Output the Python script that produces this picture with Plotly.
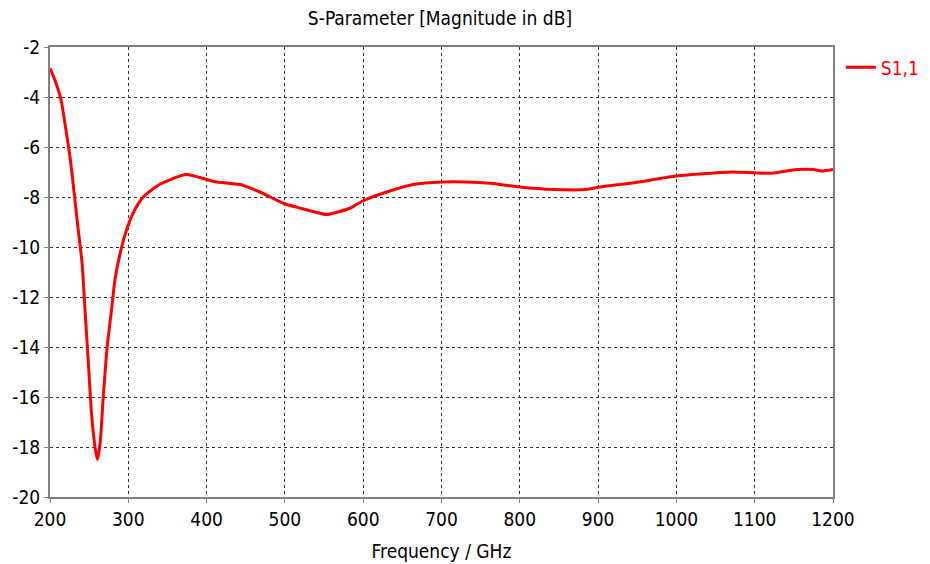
import plotly.graph_objects as go

freq_ghz = [200, 206, 214, 221, 226, 230, 236, 241, 245, 249, 253, 257.5, 260.5, 264, 268, 273,
            279, 283, 291.5, 298, 306, 319, 340, 374, 400, 413, 443, 468, 498, 520, 541, 553,
            583, 600, 630, 664, 702, 732, 762, 800, 843, 885, 902, 941, 1000, 1030, 1072,
            1100, 1122, 1154, 1175, 1185, 1200]
s11_db = [-2.85, -3.3, -4.1, -5.45, -6.5, -7.6, -9.3, -10.65, -12.65, -14.65, -16.65, -18.0,
          -18.5, -17.85, -16.0, -14.0, -12.4, -11.3, -10.0, -9.3, -8.65, -8.0, -7.5, -7.1,
          -7.3, -7.4, -7.5, -7.8, -8.25, -8.45, -8.62, -8.7, -8.45, -8.15, -7.8, -7.5, -7.4,
          -7.4, -7.45, -7.6, -7.7, -7.7, -7.6, -7.45, -7.16, -7.08, -7.0, -7.03, -7.05,
          -6.9, -6.9, -6.96, -6.9]

x_ticks = [200, 300, 400, 500, 600, 700, 800, 900, 1000, 1100, 1200]
y_ticks = [-2, -4, -6, -8, -10, -12, -14, -16, -18, -20]
y_tick_labels = ["-2", "-4", "-6", "-8", "-10", "-12", "-14", "-16", "-18", "-20"]

FONT = "DejaVu Sans Condensed, DejaVu Sans, sans-serif"

fig = go.Figure()
fig.add_trace(go.Scatter(
    x=freq_ghz, y=s11_db, mode="lines", name="S1,1",
    line=dict(color="#ff0000", width=3, shape="spline", smoothing=0.6),
))

axis_common = dict(
    showline=True, mirror=True, linecolor="#808080", linewidth=2,
    showgrid=True, gridcolor="#333333", gridwidth=1, griddash="dot",
    ticks="outside", ticklen=4, tickcolor="#808080",
    tickfont=dict(family=FONT, size=19, color="#000000"),
    zeroline=False, automargin=False,
)

fig.update_layout(
    width=930, height=564,
    paper_bgcolor="white", plot_bgcolor="white",
    margin=dict(l=42, r=105, t=39, b=75),
    title=dict(text="S-Parameter [Magnitude in dB]", x=0.4645, xanchor="center",
               y=0.982, yanchor="middle",
               font=dict(family=FONT, size=19, color="#000000")),
    xaxis=dict(range=[200, 1200], tickvals=x_ticks,
               title=dict(text="Frequency / GHz", standoff=16,
                          font=dict(family=FONT, size=19, color="#000000")),
               **axis_common),
    yaxis=dict(range=[-20, -2], tickvals=y_ticks, ticktext=y_tick_labels,
               ticklabelstandoff=0, **axis_common),
    showlegend=True,
    legend=dict(x=1.01, y=0.997, xanchor="left", yanchor="top",
                font=dict(family=FONT, size=19, color="#ff0000"),
                bgcolor="rgba(0,0,0,0)", itemwidth=30),
)

fig.write_html("out.html")
